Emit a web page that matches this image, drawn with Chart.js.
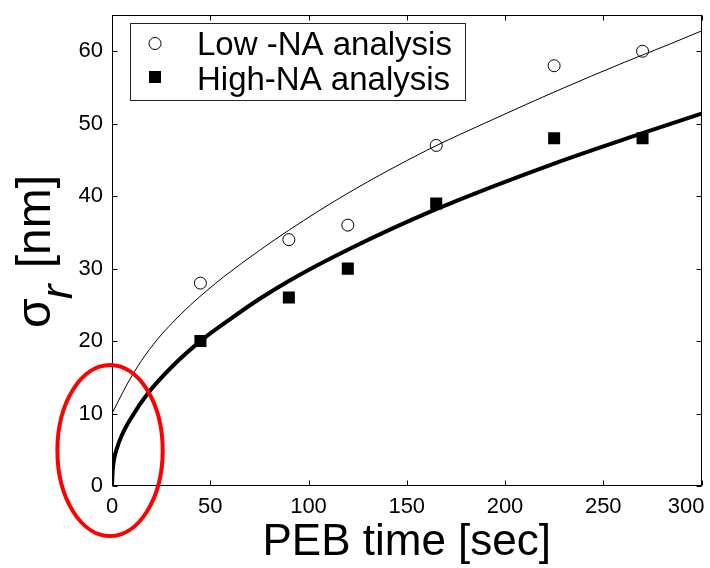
<!DOCTYPE html>
<html><head><meta charset="utf-8">
<script src="https://cdn.jsdelivr.net/npm/chart.js@4.4.0/dist/chart.umd.min.js"></script>
<style>html,body{margin:0;padding:0;background:#fff;overflow:hidden}</style>
</head><body>
<canvas id="c" width="710" height="568"></canvas>
<script>
// ---- data ----
const xTicks = [0, 50, 100, 150, 200, 250, 300];
const yTicks = [0, 10, 20, 30, 40, 50, 60];
const pebTimes = [45, 90, 120, 165, 225, 270];
const lowNA = [28, 34, 36, 47, 58, 60];
const highNA = [20, 26, 30, 39, 48, 48];
const lowFitX = [0, 8, 15, 23, 31, 40, 48, 57, 75, 90, 120, 160, 194, 227, 261, 284, 300];
const lowFitY = [10, 14.2, 17.3, 20.2, 22.6, 25.0, 26.9, 28.9, 32.5, 35.3, 40.4, 46.3, 50.6, 54.6, 58.5, 61.0, 62.8];
const highFitX = [0, 0.3, 1, 2.5, 5, 10, 18, 31, 45, 60, 75, 90, 120, 165, 225, 270, 300];
const highFitY = [0, 2, 3.6, 5.2, 7, 9.5, 12.7, 16.6, 20, 23, 25.8, 28.3, 32.6, 38.2, 44.5, 48.7, 51.4];
const seriesLabels = ['Low -NA analysis', 'High-NA analysis'];
const xTitle = 'PEB time [sec]';
const yTitleMain = '\u03c3', yTitleSub = 'r', yTitleUnit = ' [nm]';

const FONT = 'Liberation Sans, Arial, sans-serif';
const pts = (xs, ys) => xs.map((v, i) => ({x: v, y: ys[i]}));

const decorPlugin = {
  id: 'decor',
  afterDatasetsDraw(chart) {
    const {ctx, chartArea: a, scales: {x, y}} = chart;
    ctx.save();
    // frame
    const L = Math.round(a.left) + 0.5, R = Math.round(a.right) - 0.5;
    const T = Math.round(a.top) + 0.5, B = Math.round(a.bottom) - 0.5;
    ctx.strokeStyle = '#000'; ctx.lineWidth = 1;
    ctx.strokeRect(L, T, R - L, B - T);
    ctx.beginPath();
    x.ticks.forEach(t => {
      const px = Math.round(x.getPixelForValue(t.value)) + 0.5;
      ctx.moveTo(px, B); ctx.lineTo(px, B - 5);
      ctx.moveTo(px, T); ctx.lineTo(px, T + 5);
    });
    y.ticks.forEach(t => {
      const py = Math.round(y.getPixelForValue(t.value)) + 0.5;
      ctx.moveTo(L, py); ctx.lineTo(L + 5, py);
      ctx.moveTo(R, py); ctx.lineTo(R - 5, py);
    });
    ctx.stroke();

    // legend
    const lx = Math.round(a.left) + 18, ly = Math.round(a.top) + 8, lw = 335, lh = 77;
    ctx.fillStyle = '#fff'; ctx.fillRect(lx, ly, lw, lh);
    ctx.strokeStyle = '#222'; ctx.lineWidth = 1;
    ctx.strokeRect(lx + 0.5, ly + 0.5, lw, lh);
    ctx.beginPath(); ctx.arc(lx + 25, ly + 20.5, 6, 0, Math.PI * 2);
    ctx.strokeStyle = '#000'; ctx.stroke();
    ctx.fillStyle = '#000'; ctx.fillRect(lx + 19, ly + 48, 12, 12);
    ctx.font = '33px ' + FONT; ctx.textAlign = 'left'; ctx.textBaseline = 'alphabetic';
    ctx.fillText(seriesLabels[0], lx + 67, ly + 32);
    ctx.fillText(seriesLabels[1], lx + 67, ly + 67);

    // y title (rotated, with subscript)
    const cy = (a.top + a.bottom) / 2;
    const fMain = '48px ' + FONT, fSub = 'italic 44px ' + FONT;
    ctx.font = fMain; const w1 = ctx.measureText(yTitleMain).width; const w3 = ctx.measureText(yTitleUnit).width;
    ctx.font = fSub; const w2 = ctx.measureText(yTitleSub).width;
    const total = w1 + w2 + w3;
    ctx.translate(50, cy + total / 2 + 2);
    ctx.rotate(-Math.PI / 2);
    ctx.fillStyle = '#000';
    ctx.font = fMain; ctx.fillText(yTitleMain, 0, 0);
    ctx.font = fSub; ctx.fillText(yTitleSub, w1 - 1, 22);
    ctx.font = fMain; ctx.fillText(yTitleUnit, w1 + w2 + 2, 0);
    ctx.setTransform(1, 0, 0, 1, 0, 0);

    // red ellipse annotation around the origin
    const cx = x.getPixelForValue(-1), cyE = y.getPixelForValue(4.9);
    const rx = x.getPixelForValue(26.8) - x.getPixelForValue(0);
    const ry = y.getPixelForValue(0) - y.getPixelForValue(11.8);
    ctx.beginPath(); ctx.ellipse(cx, cyE, rx, ry, 0, 0, Math.PI * 2);
    ctx.strokeStyle = '#ff0000'; ctx.lineWidth = 4; ctx.stroke();
    ctx.restore();
  }
};

new Chart(document.getElementById('c'), {
  type: 'scatter',
  data: {
    datasets: [
      {label: seriesLabels[1], data: pts(pebTimes, highNA), pointStyle: 'rect', pointRadius: 8.5,
       pointBackgroundColor: '#000', pointBorderWidth: 0, borderColor: '#000', showLine: false},
      {label: seriesLabels[0], data: pts(pebTimes, lowNA), pointStyle: 'circle', pointRadius: 6,
       pointBackgroundColor: 'rgba(0,0,0,0)', pointBorderColor: '#000', pointBorderWidth: 1, showLine: false},
      {label: 'low fit', data: pts(lowFitX, lowFitY), showLine: true, borderColor: '#000', borderWidth: 1,
       pointRadius: 0, cubicInterpolationMode: 'monotone', fill: false},
      {label: 'high fit', data: pts(highFitX, highFitY), showLine: true, borderColor: '#000', borderWidth: 4,
       pointRadius: 0, cubicInterpolationMode: 'monotone', fill: false, borderCapStyle: 'round'}
    ]
  },
  options: {
    responsive: false, animation: false, devicePixelRatio: 1,
    layout: {padding: {top: 15, right: 2, left: 0, bottom: 0}},
    plugins: {legend: {display: false}, tooltip: {enabled: false}},
    scales: {
      x: {
        type: 'linear', position: 'bottom', min: 0, max: 300,
        afterBuildTicks: s => { s.ticks = xTicks.map(v => ({value: v})); },
        afterFit: s => { s.height = 82; s.paddingLeft = 0; s.paddingRight = 0; },
        grid: {display: false, drawTicks: false}, border: {display: false},
        ticks: {autoSkip: false, maxRotation: 0, padding: 8, color: '#000', font: {family: FONT, size: 22},
                callback: v => v === 300 ? '300     ' : String(v)},
        title: {display: true, text: xTitle, color: '#000', font: {family: FONT, size: 44, lineHeight: 1},
                padding: {top: 0, bottom: 3}}
      },
      y: {
        type: 'linear', position: 'left', min: 0, max: 65,
        afterBuildTicks: s => { s.ticks = yTicks.map(v => ({value: v})); },
        afterFit: s => { s.width = 112; s.paddingTop = 0; s.paddingBottom = 0; },
        grid: {display: false, drawTicks: false}, border: {display: false},
        ticks: {autoSkip: false, padding: 9, color: '#000', font: {family: FONT, size: 22}}
      }
    }
  },
  plugins: [decorPlugin]
});
</script>
</body></html>
